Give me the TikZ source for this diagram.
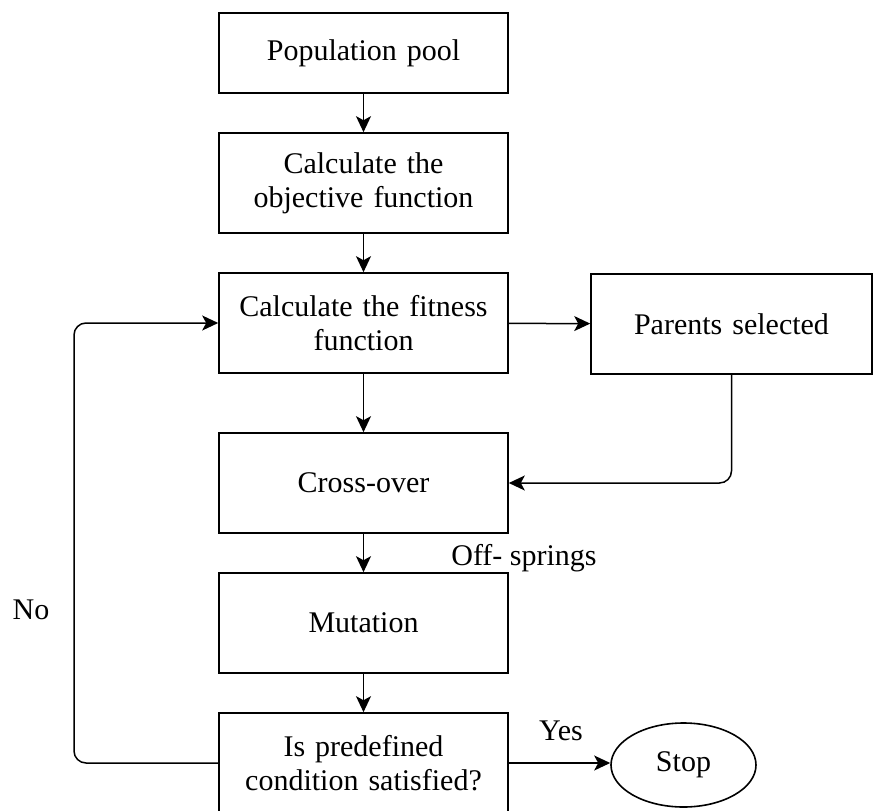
\documentclass[tikz,border=0pt]{standalone}
\usepackage{fontspec}
\setmainfont{Liberation Serif}
\usetikzlibrary{arrows.meta,shapes.geometric}

\begin{document}
\begin{tikzpicture}[x=1pt, y=1pt,
	    font=\fontsize{30}{34}\selectfont,
	    box/.style={rectangle, draw, line width=1.6pt, minimum width=289pt, minimum height=100pt, inner sep=0pt, text width=275pt, align=center},
	    flow/.style={line width=1.5pt, -{Stealth[length=16pt, width=15pt, inset=4pt]}}]
	    \useasboundingbox (0,0) rectangle (873,-811);

	    \node[box, minimum height=80pt] (pool) at (363.5,-53) {Population pool};
	    \node[box] (obj) at (363.5,-183) {Calculate the\\objective function};
	    \node[box] (fit) at (363.5,-323) {Calculate the fitness\\function};
	    \node[box, minimum width=281pt] (par) at (731.5,-324) {Parents selected};
	    \node[box] (cross) at (363.5,-483) {Cross-over};
	    \node[box] (mut) at (363.5,-623) {Mutation};
	    \node[box] (cond) at (363.5,-763) {Is predefined\\condition satisfied?};
	    \node[ellipse, draw, line width=1.6pt, minimum width=145pt, minimum height=84pt, inner sep=0pt] (stop) at (683.5,-765) {Stop};

	    \node (offs) at (524,-558) {Off- springs};
	    \node (no) at (31,-610) {No};
	    \node (yes) at (561,-731) {Yes};

	    \foreach \a/\b in {pool/obj, obj/fit, fit/cross, cross/mut, mut/cond}
		\draw[flow] (\a) -- (\b);

	    \draw[flow] (fit) -- (par);
	    \draw[flow] (cond.east) -- (stop.west |- cond.east);
	    \draw[flow, rounded corners=12pt] (par.south) |- (cross.east);
	    \draw[flow, rounded corners=12pt] (cond.west) -| (74,-323) -- (fit.west);
	\end{tikzpicture}
\end{document}
